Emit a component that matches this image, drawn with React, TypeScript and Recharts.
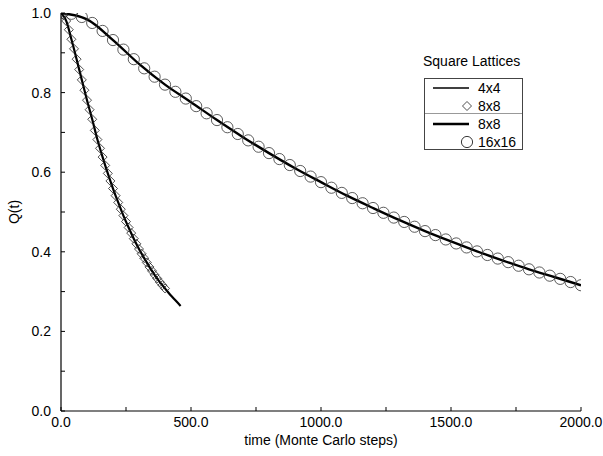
import React from 'react';
import { LineChart, Line, XAxis, YAxis } from 'recharts';

// 4x4 lattice (line) and 8x8 lattice (diamonds)
const fastLineTimes = [0, 20, 40, 60, 80, 100, 120, 140, 160, 180, 200, 220, 240, 260, 280, 300, 320, 340, 360, 380, 400, 420, 440, 460];
const fastLineQ = [1.0, 0.98, 0.934, 0.884, 0.832, 0.781, 0.733, 0.682, 0.638, 0.597, 0.559, 0.524, 0.491, 0.461, 0.433, 0.407, 0.384, 0.362, 0.342, 0.324, 0.308, 0.292, 0.278, 0.264];

const diamondTimes = [0, 10, 20, 30, 40, 50, 60, 70, 80, 90, 100, 110, 120, 130, 140, 150, 160, 170, 180, 190, 200, 210, 220, 230, 240, 250, 260, 270, 280, 290, 300, 310, 320, 330, 340, 350, 360, 370, 380, 390, 400];
const diamondQ = [1.0, 0.995, 0.98, 0.958, 0.934, 0.91, 0.884, 0.858, 0.832, 0.806, 0.781, 0.757, 0.733, 0.705, 0.682, 0.66, 0.638, 0.617, 0.597, 0.578, 0.559, 0.541, 0.524, 0.507, 0.491, 0.476, 0.461, 0.447, 0.433, 0.42, 0.407, 0.395, 0.384, 0.373, 0.362, 0.352, 0.342, 0.333, 0.324, 0.316, 0.308];

// 8x8 lattice (line) and 16x16 lattice (circles)
const slowLineTimes = [0, 100, 200, 300, 400, 500, 600, 700, 800, 900, 1000, 1100, 1200, 1300, 1400, 1500, 1600, 1700, 1800, 1900, 2000];
const slowLineQ = [1.0, 0.984, 0.932, 0.872, 0.82, 0.776, 0.731, 0.688, 0.648, 0.61, 0.575, 0.541, 0.51, 0.48, 0.452, 0.426, 0.401, 0.378, 0.356, 0.336, 0.316];

const circleTimes = [0, 40, 80, 120, 160, 200, 240, 280, 320, 360, 400, 440, 480, 520, 560, 600, 640, 680, 720, 760, 800, 840, 880, 920, 960, 1000, 1040, 1080, 1120, 1160, 1200, 1240, 1280, 1320, 1360, 1400, 1440, 1480, 1520, 1560, 1600, 1640, 1680, 1720, 1760, 1800, 1840, 1880, 1920, 1960, 2000];
const circleQ = [1.0, 0.998, 0.99, 0.975, 0.955, 0.932, 0.908, 0.884, 0.861, 0.84, 0.82, 0.802, 0.785, 0.766, 0.748, 0.731, 0.713, 0.696, 0.68, 0.664, 0.648, 0.633, 0.618, 0.603, 0.589, 0.575, 0.561, 0.548, 0.535, 0.522, 0.51, 0.498, 0.486, 0.475, 0.463, 0.452, 0.442, 0.431, 0.421, 0.411, 0.401, 0.392, 0.383, 0.374, 0.365, 0.356, 0.348, 0.34, 0.332, 0.324, 0.316];

const xTicks = [0, 250, 500, 750, 1000, 1250, 1500, 1750, 2000];
const yTicks = [0, 0.1, 0.2, 0.3, 0.4, 0.5, 0.6, 0.7, 0.8, 0.9, 1.0];

const legendTitle = 'Square Lattices';
const legendLabels = ['4x4', '8x8', '8x8', '16x16'];

const zip = (ts: number[], qs: number[]) => ts.map((t, i) => ({ t, q: qs[i] }));

const fastLine = zip(fastLineTimes, fastLineQ);
const diamonds = zip(diamondTimes, diamondQ);
const slowLine = zip(slowLineTimes, slowLineQ);
const circles = zip(circleTimes, circleQ);

const font = '"Liberation Sans", Arial, Helvetica, sans-serif';
const tickStyle = { fill: '#000', fontSize: 14, fontFamily: font };

const Diamond = (props: any) => {
  const { cx, cy, index } = props;
  if (cx == null || cy == null) return <g key={`d-${index}`} />;
  const r = 4.5;
  return (
    <path
      key={`d-${index}`}
      d={`M${cx},${cy - r} L${cx + r},${cy} L${cx},${cy + r} L${cx - r},${cy} Z`}
      fill="none"
      stroke="#222"
      strokeWidth={0.8}
    />
  );
};

const Ring = (props: any) => {
  const { cx, cy, index } = props;
  if (cx == null || cy == null) return <g key={`c-${index}`} />;
  return <circle key={`c-${index}`} cx={cx} cy={cy} r={5.6} fill="none" stroke="#333" strokeWidth={0.8} />;
};

const Legend = () => (
  <div style={{ position: 'absolute', left: 423, top: 51, fontFamily: font, fontSize: 14, color: '#000' }}>
    <div style={{ lineHeight: '20px' }}>{legendTitle}</div>
    <div style={{ position: 'absolute', left: 1, top: 27, width: 99, height: 72, border: '1px solid #444', boxSizing: 'border-box' }}>
      <div style={{ position: 'absolute', left: 0, right: 0, top: 34, borderTop: '1px solid #999' }} />
      <svg width={99} height={72} style={{ position: 'absolute', left: 0, top: 0 }}>
        <line x1={8} x2={44} y1={9} y2={9} stroke="#000" strokeWidth={1.6} />
        <path d="M42,22.5 L46.5,27 L42,31.5 L37.5,27 Z" fill="none" stroke="#222" strokeWidth={0.8} />
        <line x1={8} x2={44} y1={45} y2={45} stroke="#000" strokeWidth={2.4} />
        <circle cx={42} cy={63} r={5.6} fill="none" stroke="#222" strokeWidth={0.9} />
      </svg>
      {legendLabels.map((l, i) => (
        <div key={i} style={{ position: 'absolute', left: 53, top: [0, 18, 36, 54][i], lineHeight: '18px', whiteSpace: 'nowrap' }}>
          {l}
        </div>
      ))}
    </div>
  </div>
);

export default function App() {
  return (
    <div style={{ position: 'absolute', left: 0, top: 0, width: 603, height: 456, background: '#fff', fontFamily: font }}>
      <LineChart width={603} height={456} margin={{ top: 13, right: 22, bottom: 0, left: 6 }}>
        <XAxis
          dataKey="t"
          type="number"
          domain={[0, 2000]}
          ticks={xTicks}
          allowDataOverflow
          tickSize={-4}
          tickMargin={10}
          height={45}
          stroke="#000"
          axisLine={{ stroke: '#000', strokeWidth: 1.2 }}
          tickLine={{ stroke: '#000' }}
          tick={tickStyle}
          tickFormatter={(v: number) => (v % 500 === 0 ? v.toFixed(1) : '')}
          label={{ value: 'time (Monte Carlo steps)', position: 'insideBottom', offset: 11, fill: '#000', fontSize: 14, fontFamily: font }}
        />
        <XAxis
          xAxisId="top"
          orientation="top"
          dataKey="t"
          type="number"
          domain={[0, 2000]}
          ticks={xTicks}
          allowDataOverflow
          tickSize={-4}
          height={0}
          axisLine={{ stroke: '#999', strokeWidth: 1.5 }}
          tickLine={{ stroke: '#666' }}
          tick={false}
        />
        <YAxis
          type="number"
          domain={[0, 1]}
          ticks={yTicks}
          allowDataOverflow
          tickSize={-4}
          tickMargin={14}
          width={55}
          axisLine={{ stroke: '#000', strokeWidth: 1.2 }}
          tickLine={{ stroke: '#000' }}
          tick={tickStyle}
          tickFormatter={(v: number) => (Math.round(v * 10) % 2 === 0 ? v.toFixed(1) : '')}
          label={{
            content: (p: any) => {
              const vb = p.viewBox || { x: 6, y: 13, width: 55, height: 398 };
              const x = 14;
              const y = vb.y + vb.height / 2;
              return (
                <text x={x} y={y} transform={`rotate(-90 ${x} ${y})`} textAnchor="middle" dominantBaseline="central" fill="#000" fontSize={14} fontFamily={font}>
                  Q(t)
                </text>
              );
            },
          }}
        />
        <YAxis
          yAxisId="right"
          orientation="right"
          type="number"
          domain={[0, 1]}
          ticks={yTicks}
          allowDataOverflow
          tickSize={-4}
          width={0}
          axisLine={{ stroke: '#555', strokeWidth: 2.5 }}
          tickLine={{ stroke: '#555' }}
          tick={false}
        />
        <Line data={diamonds} dataKey="q" stroke="none" dot={Diamond} isAnimationActive={false} />
        <Line data={circles} dataKey="q" stroke="none" dot={Ring} isAnimationActive={false} />
        <Line data={fastLine} dataKey="q" type="monotone" stroke="#000" strokeWidth={2.2} dot={false} isAnimationActive={false} />
        <Line data={slowLine} dataKey="q" type="monotone" stroke="#000" strokeWidth={2.4} dot={false} isAnimationActive={false} />
      </LineChart>
      <Legend />
    </div>
  );
}
